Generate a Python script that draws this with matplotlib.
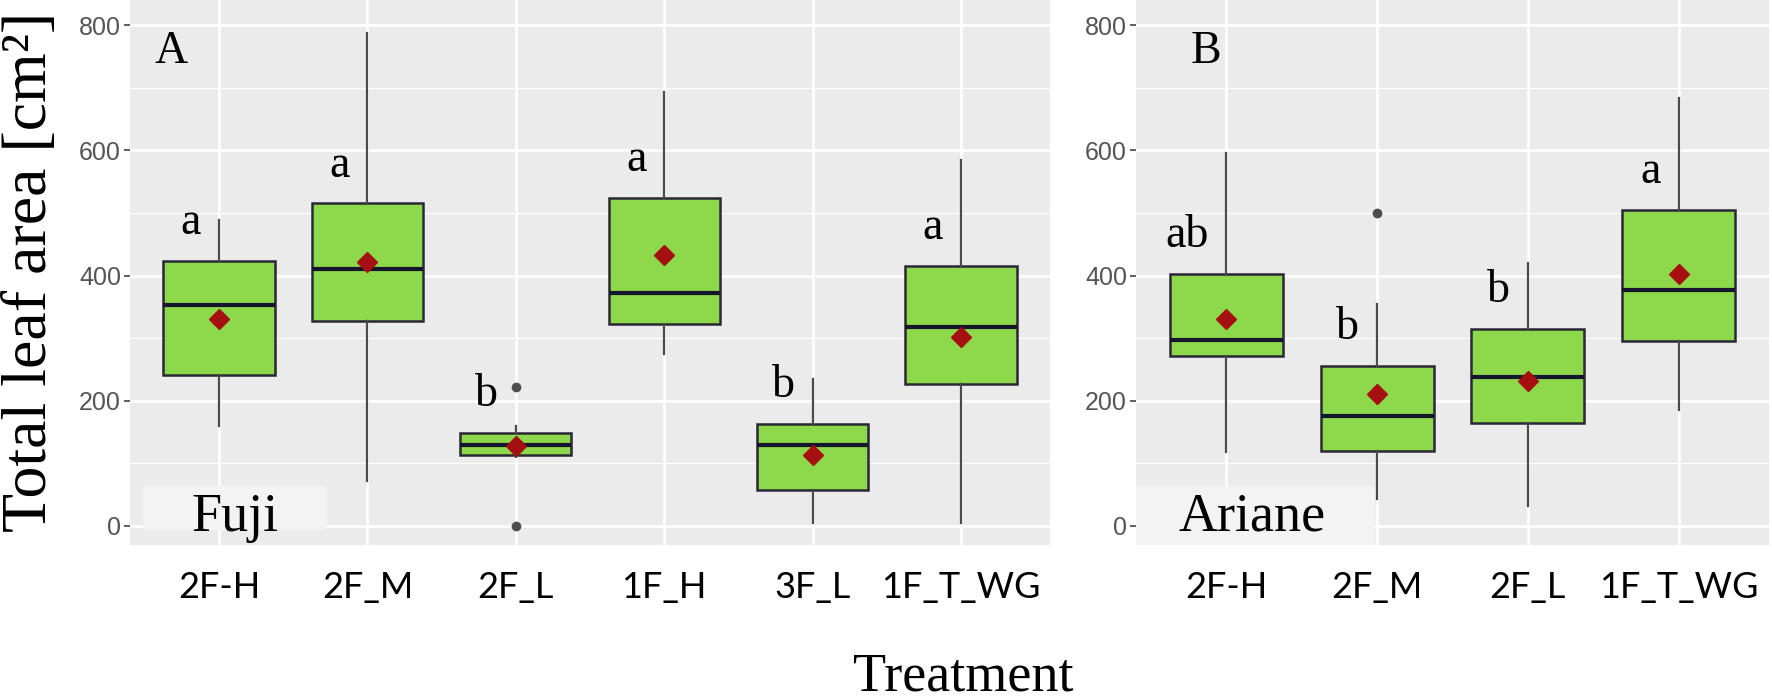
import matplotlib
matplotlib.use("Agg")
import matplotlib.pyplot as plt
from matplotlib.patches import Rectangle
from matplotlib.ticker import MultipleLocator

# Fuji (panel A)
fuji_labels = ["2F-H", "2F_M", "2F_L", "1F_H", "3F_L", "1F_T_WG"]
fuji_whislo = [159, 72, 110, 275, 5, 5]
fuji_q1 = [241, 327, 113, 323, 58, 226]
fuji_med = [353, 411, 130, 372, 130, 317]
fuji_q3 = [423, 515, 149, 524, 163, 415]
fuji_whishi = [488, 787, 160, 693, 234, 584]
fuji_mean = [331, 422, 127, 433, 114, 302]
fuji_fliers = [[], [], [222, 0], [], [], []]
fuji_letters = ["a", "a", "b", "a", "b", "a"]

# Ariane (panel B)
ariane_labels = ["2F-H", "2F_M", "2F_L", "1F_T_WG"]
ariane_whislo = [118, 43, 32, 185]
ariane_q1 = [272, 120, 164, 295]
ariane_med = [297, 175, 238, 377]
ariane_q3 = [402, 256, 315, 505]
ariane_whishi = [595, 355, 420, 683]
ariane_mean = [331, 211, 232, 402]
ariane_fliers = [[], [500], [], []]
ariane_letters = ["ab", "b", "b", "a"]

SERIF = ["Liberation Serif", "DejaVu Serif"]
BOX_GREEN = "#8DD84B"
PANEL_BG = "#EBEBEB"

W, H = 1772, 700
fig = plt.figure(figsize=(W / 100, H / 100), dpi=100)


def px_axes(left, right, top, bottom):
    return fig.add_axes([left / W, 1 - bottom / H, (right - left) / W, (bottom - top) / H])


def draw_panel(ax, labels, whislo, q1, med, q3, whishi, mean, fliers, letters):
    stats = []
    for i in range(len(labels)):
        stats.append({
            "whislo": whislo[i], "q1": q1[i], "med": med[i], "q3": q3[i],
            "whishi": whishi[i], "mean": mean[i], "fliers": fliers[i],
        })
    ax.set_facecolor(PANEL_BG)
    ax.bxp(
        stats, positions=range(len(labels)), widths=0.75,
        showmeans=True, showcaps=False, patch_artist=True,
        boxprops=dict(facecolor=BOX_GREEN, edgecolor="#2A2736", linewidth=1.8),
        medianprops=dict(color="#15152E", linewidth=3.0),
        whiskerprops=dict(color="#4A4A4A", linewidth=1.6),
        meanprops=dict(marker="D", markerfacecolor="#A50F0F",
                       markeredgecolor="#A50F0F", markersize=10),
        flierprops=dict(marker="o", markerfacecolor="#4D4D4D",
                        markeredgecolor="none", markersize=7),
        zorder=3,
    )
    for i, letter in enumerate(letters):
        ax.text(i - 0.12, q3[i] + 43, letter, ha="right", va="baseline",
                fontsize=33, family=SERIF, zorder=4)

    ax.set_xlim(-0.6, len(labels) - 0.4)
    ax.set_ylim(-30.4, 840)
    ax.yaxis.set_major_locator(MultipleLocator(200))
    ax.yaxis.set_minor_locator(MultipleLocator(100))
    ax.set_xticks(range(len(labels)))
    ax.set_xticklabels(labels, family=["Lato", "DejaVu Sans"], fontsize=26)
    ax.grid(which="major", color="white", linewidth=1.9, zorder=0)
    ax.grid(which="minor", axis="y", color="white", linewidth=0.9, zorder=0)
    ax.set_axisbelow(True)
    ax.tick_params(axis="x", length=0, pad=19, colors="black")
    ax.tick_params(axis="y", which="major", length=4.5, width=1.1,
                   color="#333333", labelcolor="#555555", labelsize=18, pad=2)
    ax.tick_params(axis="y", which="minor", length=0)
    for label in ax.get_yticklabels():
        label.set_family(["Liberation Sans", "DejaVu Sans"])
    for spine in ax.spines.values():
        spine.set_visible(False)


ax_a = px_axes(130, 1050, 0, 545)
draw_panel(ax_a, fuji_labels, fuji_whislo, fuji_q1, fuji_med, fuji_q3,
           fuji_whishi, fuji_mean, fuji_fliers, fuji_letters)
ax_b = px_axes(1136, 1769, 0, 545)
draw_panel(ax_b, ariane_labels, ariane_whislo, ariane_q1, ariane_med, ariane_q3,
           ariane_whishi, ariane_mean, ariane_fliers, ariane_letters)

# panel tags
ax_a.text(0.045, 0.884, "A", transform=ax_a.transAxes, ha="center",
          va="baseline", fontsize=33, family=SERIF, zorder=5)
ax_b.text(0.11, 0.884, "B", transform=ax_b.transAxes, ha="center",
          va="baseline", fontsize=33, family=SERIF, zorder=5)

# cultivar labels in light boxes
ax_a.add_patch(Rectangle((0.014, 0.0275), 0.2, 0.08, transform=ax_a.transAxes,
                         facecolor="#F3F3F3", edgecolor="none", zorder=2))
ax_a.text(0.114, 0.026, "Fuji", transform=ax_a.transAxes, ha="center",
          va="baseline", fontsize=39, family=SERIF, zorder=5)
ax_b.add_patch(Rectangle((0.0, 0.0), 0.378, 0.108, transform=ax_b.transAxes,
                         facecolor="#F3F3F3", edgecolor="none", zorder=2))
ax_b.text(0.183, 0.026, "Ariane", transform=ax_b.transAxes, ha="center",
          va="baseline", fontsize=39, family=SERIF, zorder=5)

fig.text(963 / W, 0.014, "Treatment", ha="center", va="baseline",
         fontsize=39, family=SERIF)
fig.text(31 / W, 1 - 272 / H, "Total leaf area [cm²]", rotation=90,
         ha="center", va="center", fontsize=46, family=SERIF)

fig.savefig("out.png", dpi=100)
